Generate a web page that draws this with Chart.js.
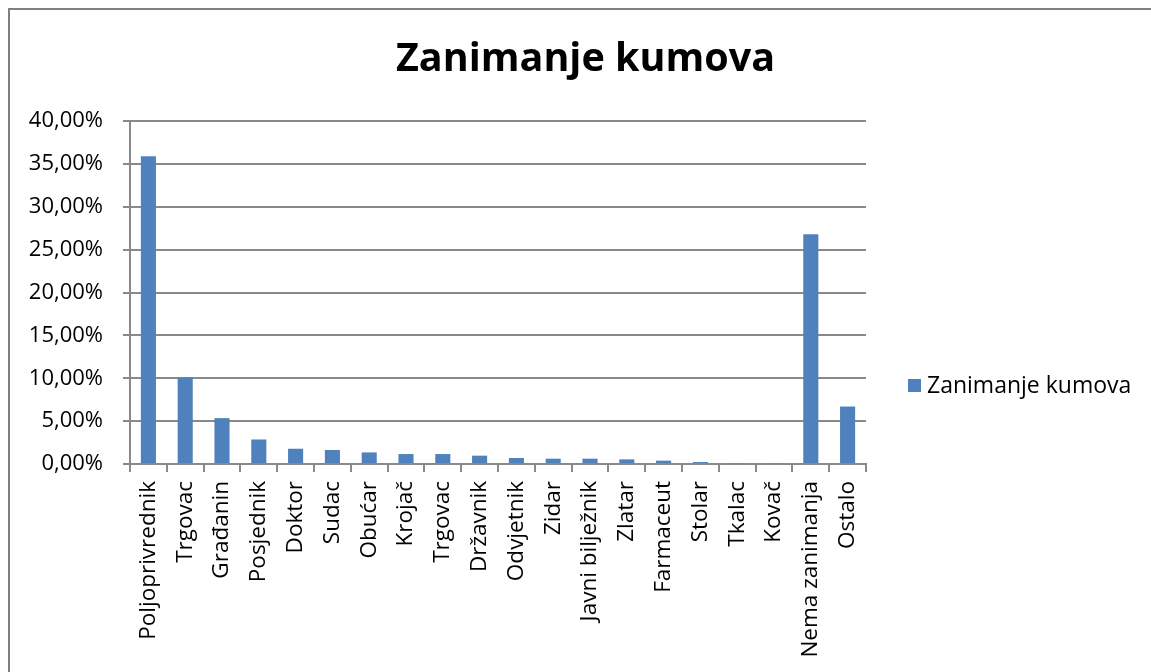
<!DOCTYPE html>
<html>
<head>
<meta charset="utf-8">
<script src="https://cdn.jsdelivr.net/npm/chart.js@4.4.1/dist/chart.umd.min.js"></script>
<style>
html,body{margin:0;padding:0;background:#fff;}
#wrap{width:1151px;height:672px;position:relative;}
</style>
</head>
<body>
<div id="wrap"><canvas id="c" width="1151" height="672"></canvas></div>
<script>
const categories = ["Poljoprivrednik","Trgovac","Građanin","Posjednik","Doktor","Sudac","Obućar","Krojač","Trgovac","Državnik","Odvjetnik","Zidar","Javni bilježnik","Zlatar","Farmaceut","Stolar","Tkalac","Kovač","Nema zanimanja","Ostalo"];
const values = [35.9,10.1,5.35,2.86,1.78,1.63,1.35,1.16,1.16,0.97,0.70,0.62,0.62,0.54,0.39,0.23,0.1,0.1,26.8,6.7];
const seriesName = "Zanimanje kumova";
const chartTitle = "Zanimanje kumova";
const yMax = 40, yStep = 5;

const FONT = "'Open Sans', sans-serif";
const BAR = '#4F81BD';
const GRID = '#898989';

const frame = {
  id: 'frame',
  beforeDraw(chart) {
    const ctx = chart.ctx;
    ctx.save();
    ctx.fillStyle = '#fff';
    ctx.fillRect(0, 0, chart.width, chart.height);
    ctx.strokeStyle = '#808080';
    ctx.lineWidth = 2;
    ctx.beginPath();
    ctx.moveTo(9, chart.height);
    ctx.lineTo(9, 9);
    ctx.lineTo(chart.width, 9);
    ctx.stroke();
    ctx.restore();
  },
  afterDraw(chart) {
    const ctx = chart.ctx;
    ctx.save();
    ctx.fillStyle = BAR;
    ctx.fillRect(908, 379, 13, 13);
    ctx.fillStyle = '#000';
    ctx.font = "23px " + FONT;
    ctx.textBaseline = 'middle';
    ctx.textAlign = 'left';
    ctx.fillText(seriesName, 927, 386);
    ctx.restore();
  }
};

new Chart(document.getElementById('c'), {
  type: 'bar',
  data: {
    labels: categories,
    datasets: [{
      label: seriesName,
      data: values,
      backgroundColor: BAR,
      borderWidth: 0,
      barPercentage: 0.41,
      categoryPercentage: 1.0
    }]
  },
  options: {
    responsive: false,
    animation: false,
    devicePixelRatio: 1,
    layout: { padding: { left: 20, right: 0, top: 0, bottom: 0 } },
    plugins: {
      legend: { display: false },
      tooltip: { enabled: false },
      title: {
        display: true,
        text: chartTitle,
        color: '#000',
        font: { family: FONT, size: 39.5, weight: 'bold' },
        padding: { top: 36, bottom: 37.6 }
      }
    },
    scales: {
      x: {
        grid: { display: true, drawOnChartArea: false, drawTicks: true, tickLength: 8, color: GRID, lineWidth: 2, offset: true },
        border: { display: true, color: GRID, width: 2 },
        ticks: {
          autoSkip: false, maxRotation: 90, minRotation: 90, padding: 9,
          color: '#000', font: { family: FONT, size: 22.5 }
        },
        afterFit: s => { s.height = 208; }
      },
      y: {
        min: 0, max: yMax,
        grid: { color: GRID, lineWidth: 2, tickLength: 7 },
        border: { display: true, color: GRID, width: 2 },
        ticks: {
          stepSize: yStep, padding: 20, color: '#000',
          font: { family: FONT, size: 22 },
          callback: v => v.toFixed(2).replace('.', ',') + '%'
        },
        afterFit: s => { s.width = 110; }
      },
      y2: {
        position: 'right',
        display: true,
        grid: { display: false, drawTicks: false },
        border: { display: false },
        ticks: { display: false },
        afterFit: s => { s.width = 285; }
      }
    }
  },
  plugins: [frame]
});
</script>
</body>
</html>
